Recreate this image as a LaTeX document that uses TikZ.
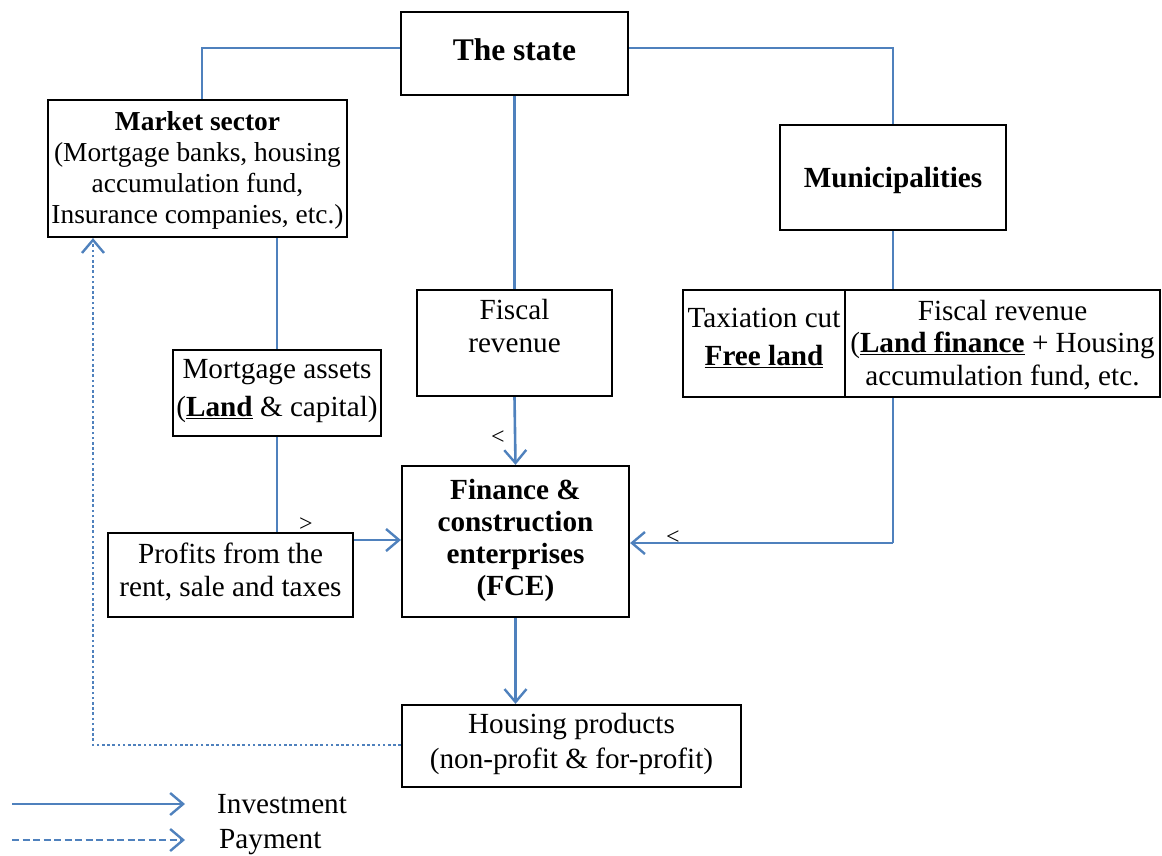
\documentclass[tikz,border=0pt]{standalone}
\usepackage{fontspec}
\setmainfont{Liberation Serif}
\usetikzlibrary{arrows.meta}
\definecolor{lineblue}{RGB}{79,129,189}
\begin{document}
\begin{tikzpicture}[x=1pt,y=-1pt,
  box/.style={draw=black,line width=2.2pt,rectangle,inner sep=0pt,align=center},
  txt/.style={inner sep=0pt,align=center,font=\fontsize{29.2}{32.5}\selectfont},
  conn/.style={draw=lineblue,line width=2.6pt},
  arr/.style={conn,-{Straight Barb[length=13pt,width=22pt,line width=2.4pt]}},
  straymark/.style={inner sep=0pt,font=\fontsize{24}{24}\selectfont}]
\useasboundingbox (0,0) rectangle (1162,855);
% boxes
\node[box,minimum width=227pt,minimum height=83pt] (state) at (514.5,53.5) {};
\node[txt,font=\fontsize{31.5}{34}\selectfont\bfseries] (statet) at (514.5,50) {The state};
\node[box,minimum width=299pt,minimum height=137pt] (market) at (197.5,168.5) {};
\node[txt,font=\fontsize{27.4}{31}\selectfont] (markett) at (197.5,170) {\textbf{Market sector}\\(Mortgage banks, housing\\accumulation fund,\\Insurance companies, etc.)};
\node[box,minimum width=226pt,minimum height=105pt] (muni) at (893,177.5) {};
\node[txt,font=\fontsize{29.2}{32.5}\selectfont\bfseries] (munit) at (893,180) {Municipalities};
\node[box,minimum width=195pt,minimum height=106pt] (fiscal) at (514.5,343) {};
\node[txt] (fiscalt) at (514.5,326) {Fiscal\\revenue};
\node[box,minimum width=162pt,minimum height=107pt] (taxcut) at (764,343.5) {};
\node[txt] (taxcutt) at (764,338) {Taxiation cut\\[6pt]\textbf{\underline{Free land}}};
\node[box,minimum width=315pt,minimum height=107pt] (fiscalr) at (1002.5,343.5) {};
\node[txt] (fiscalrt) at (1002.5,345) {Fiscal revenue\\(\textbf{\underline{Land finance}} + Housing\\accumulation fund, etc.};
\node[box,minimum width=208pt,minimum height=86pt,fill=white] (mort) at (277,393) {};
\node[txt] (mortt) at (277,391) {Mortgage assets\\[5pt](\textbf{\underline{Land}} \& capital)};
\node[box,minimum width=227pt,minimum height=151pt] (fce) at (515.5,541.5) {};
\node[txt,font=\fontsize{29.2}{32}\selectfont\bfseries] (fcet) at (515.5,540) {Finance \&\\construction\\enterprises\\(FCE)};
\node[box,minimum width=245pt,minimum height=84pt] (profit) at (230.5,575) {};
\node[txt] (profitt) at (230.5,572) {Profits from the\\rent, sale and taxes};
\node[box,minimum width=339pt,minimum height=82pt] (house) at (571.5,746) {};
\node[txt] (houset) at (571.5,744) {Housing products\\[2pt](non-profit \& for-profit)};
% connectors
\coordinate (sl) at (202,48);
\coordinate (sr) at (893,48);
\draw[conn] (state.west |- sl) -- (sl) -- (sl |- market.north);
\draw[conn] (state.east |- sr) -- (sr) -- (sr |- muni.north);
\draw[conn] (state.south) -- (fiscal.north);
\draw[arr] (fiscal.south) -- (fce.north);
\draw[conn] (market.south -| mort.north) -- (mort.north);
\draw[conn] (mort.south) -- (mort.south |- profit.north);
\coordinate (pj) at (353,540);
\draw[arr] (profit.east |- pj) -- (fce.west |- pj);
\draw[conn] (muni.south) -- (muni.south |- fiscalr.north);
\coordinate (rj) at (893,543);
\draw[conn] (fiscalr.south -| rj) -- (rj);
\draw[arr] (rj) -- (fce.east |- rj);
\draw[arr] (fce.south) -- (house.north -| fce.south);
\coordinate (dl) at (93,745);
\draw[conn,line width=2.6pt,dash pattern=on 2.6pt off 2.6pt,-{Straight Barb[length=13pt,width=22pt,line width=2.4pt]}] (house.west |- dl) -- (dl) -- (dl |- market.south);
% stray marks
\node[straymark] (m1) at (498,438) {<};
\node[straymark] (m2) at (306,525) {>};
\node[straymark] (m3) at (673,538) {<};
% legend
\coordinate (l1a) at (12,804);
\coordinate (l1b) at (185,804);
\coordinate (l2a) at (12,840);
\coordinate (l2b) at (185,840);
\draw[arr] (l1a) -- (l1b);
\draw[arr,dash pattern=on 7pt off 3.5pt] (l2a) -- (l2b);
\node[txt,anchor=west] (leg1) at (217,804) {Investment};
\node[txt,anchor=west] (leg2) at (219,842) {Payment};
\end{tikzpicture}
\end{document}
